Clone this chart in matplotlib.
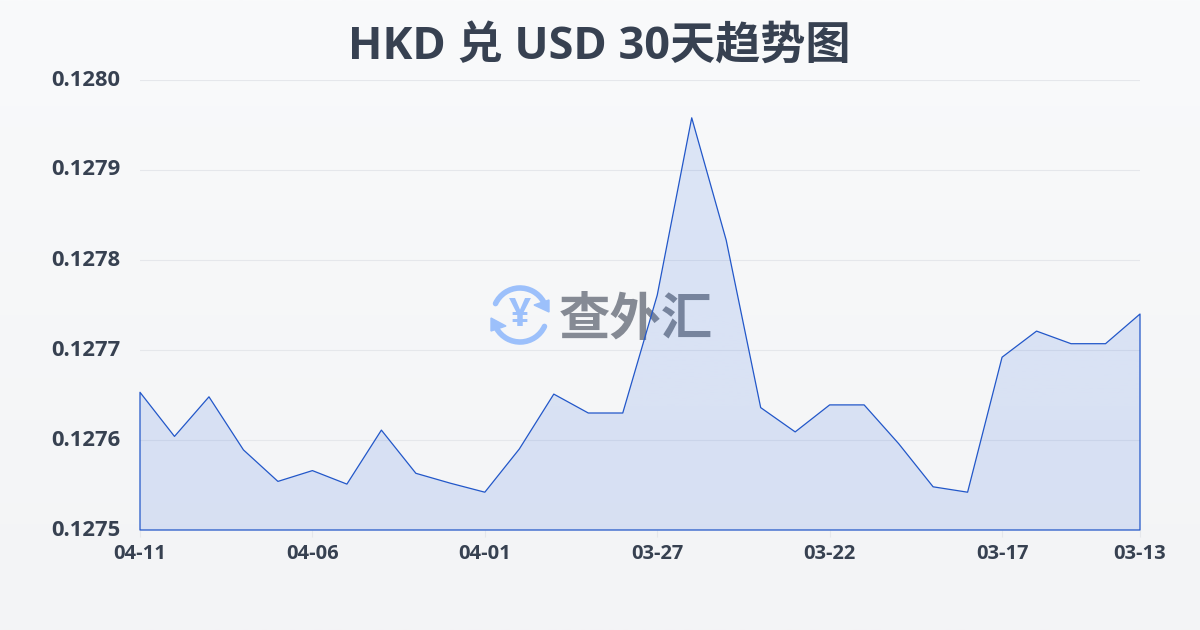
import numpy as np
import matplotlib
matplotlib.use('Agg')
import matplotlib.pyplot as plt
from matplotlib.patches import Arc, Polygon

plt.rcParams['font.family'] = ['Open Sans', 'Noto Sans CJK SC', 'DejaVu Sans']

dates = ['04-11', '04-06', '04-01', '03-27', '03-22', '03-17', '03-13']
date_pos = [0, 5, 10, 15, 20, 25, 29]
rates = [0.127653, 0.127604, 0.127648, 0.127589, 0.127554, 0.127566, 0.127551, 0.127611,
         0.127563, 0.127552, 0.127542, 0.127590, 0.127651, 0.127630, 0.127630, 0.127761,
         0.127958, 0.127822, 0.127636, 0.127609, 0.127639, 0.127639, 0.127596, 0.127548,
         0.127542, 0.127692, 0.127721, 0.127707, 0.127707, 0.127740]
y_ticks = [0.1275, 0.1276, 0.1277, 0.1278, 0.1279, 0.1280]

DARK = '#374151'
BLUE = '#2257c9'

fig = plt.figure(figsize=(12, 6.3), dpi=100)

# page background
bg = fig.add_axes([0, 0, 1, 1], zorder=0)
bg.imshow(np.linspace(0, 1, 256).reshape(-1, 1), aspect='auto', extent=[0, 1200, 630, 0],
          cmap=matplotlib.colors.LinearSegmentedColormap.from_list('bg', ['#f9fafb', '#f3f4f6']))
bg.set_xlim(0, 1200)
bg.set_ylim(630, 0)
bg.axis('off')

# watermark, sits under the chart
icon = '#9cc0fb'
cx, cy, r = 520, 315, 27
bg.add_patch(Arc((cx, cy), 2 * r, 2 * r, theta1=205, theta2=330, color=icon, lw=4, capstyle='round'))
bg.add_patch(Arc((cx, cy), 2 * r, 2 * r, theta1=25, theta2=150, color=icon, lw=4, capstyle='round'))
bg.add_patch(Polygon([[549, 300], [549, 312], [534, 305]], closed=True, color=icon))
bg.add_patch(Polygon([[491, 318], [491, 331], [506, 326]], closed=True, color=icon))
bg.text(cx, cy, '¥', fontsize=28, fontweight='bold', color=icon, ha='center', va='center')
bg.text(636, 320, '查外汇', fontsize=37, fontweight='bold', color='#858a94', ha='center', va='center',
        family=['Noto Sans CJK SC'])

ax = fig.add_axes([140 / 1200, 1 - 530 / 630, 1000 / 1200, 450 / 630], zorder=1)
ax.patch.set_alpha(0)
x = np.arange(len(rates))
ax.set_xlim(0, len(rates) - 1)
ax.set_ylim(0.1275, 0.1280)

ax.set_yticks(y_ticks)
ax.set_yticklabels(['%.4f' % v for v in y_ticks], fontsize=15.8, fontweight='bold', color=DARK,
                   va='center', y=0.002)
ax.set_xticks(date_pos)
ax.set_xticklabels(dates, fontsize=14.5, fontweight='bold', color=DARK)
ax.tick_params(axis='y', length=0, pad=14)
ax.tick_params(axis='x', length=5, width=0.8, color='#e5e7eb', pad=5)
ax.grid(axis='y', color='#e5e7eb', lw=0.8)
ax.set_axisbelow(True)
for s in ax.spines.values():
    s.set_visible(False)

# translucent fill under the line, a bit stronger towards the bottom
grad = np.zeros((256, 1, 4))
grad[:, :, :3] = matplotlib.colors.to_rgb('#2360de')
grad[:, 0, 3] = np.linspace(0.13, 0.14, 256)
fill = ax.imshow(grad, aspect='auto', zorder=2, extent=[0, len(rates) - 1, 0.1275, 0.1280])
outline = ax.fill_between(x, rates, 0.1275, facecolor='none', edgecolor=BLUE, lw=0.9, zorder=3, clip_on=False)
fill.set_clip_path(outline.get_paths()[0], outline.get_transform())
ax.set_xlim(0, len(rates) - 1)
ax.set_ylim(0.1275, 0.1280)

fig.text(599 / 1200, 1 - 47 / 630, 'HKD 兑 USD 30天趋势图', fontsize=32.5, fontweight='bold', color=DARK,
         ha='center', va='center')

fig.savefig('out.png', dpi=100)
